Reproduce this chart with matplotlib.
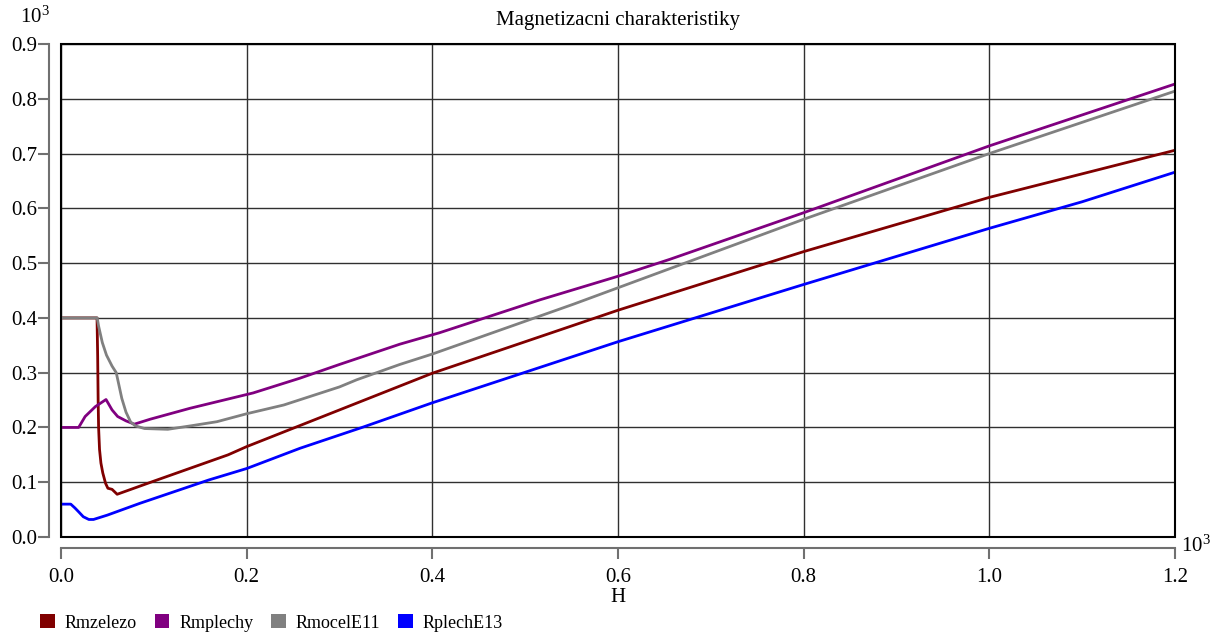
import matplotlib
matplotlib.use("Agg")
import matplotlib.pyplot as plt
from matplotlib.patches import Patch, Rectangle

plt.rcParams['font.family'] = ['Liberation Serif', 'DejaVu Serif']
plt.rcParams['mathtext.fontset'] = 'custom'
plt.rcParams['mathtext.rm'] = 'Liberation Serif'

# values in units of 10^3 (as printed on the axes)
h_zelezo = [0, 0.0388, 0.0395, 0.040, 0.0405, 0.0415, 0.043, 0.045, 0.048, 0.0505, 0.055, 0.0605,
            0.10, 0.18, 0.20, 0.30, 0.40, 0.60, 0.80, 1.0, 1.2]
r_zelezo = [0.4, 0.4, 0.33, 0.25, 0.20, 0.16, 0.135, 0.117, 0.098, 0.089, 0.087, 0.078,
            0.102, 0.150, 0.165, 0.232, 0.299, 0.414, 0.521, 0.620, 0.706]

h_plechy = [0, 0.019, 0.026, 0.037, 0.0485, 0.055, 0.061, 0.070, 0.079, 0.096,
            0.139, 0.207, 0.2575, 0.30, 0.365, 0.408, 0.516, 0.60, 0.656, 0.80, 1.0, 1.2]
r_plechy = [0.2, 0.2, 0.22, 0.238, 0.251, 0.232, 0.220, 0.212, 0.206, 0.215,
            0.235, 0.263, 0.290, 0.315, 0.352, 0.373, 0.433, 0.476, 0.507, 0.592, 0.714, 0.827]

h_mocel = [0, 0.039, 0.0405, 0.0445, 0.049, 0.055, 0.0595, 0.0655, 0.070, 0.075,
           0.080, 0.090, 0.115, 0.14, 0.168, 0.20, 0.24, 0.30, 0.3185, 0.365, 0.40,
           0.552, 0.60, 0.80, 1.0, 1.2]
r_mocel = [0.4, 0.4, 0.385, 0.355, 0.332, 0.312, 0.300, 0.253, 0.228, 0.210,
           0.203, 0.198, 0.1966, 0.203, 0.2105, 0.225, 0.241, 0.274, 0.287, 0.315, 0.334,
           0.425, 0.455, 0.580, 0.700, 0.814]

h_plech13 = [0, 0.0105, 0.015, 0.019, 0.024, 0.030, 0.035, 0.05, 0.085, 0.159,
             0.2, 0.2575, 0.326, 0.40, 0.60, 0.80, 1.0, 1.1, 1.2]
r_plech13 = [0.06, 0.06, 0.053, 0.046, 0.037, 0.032, 0.032, 0.040, 0.0615, 0.104,
             0.125, 0.162, 0.201, 0.245, 0.3565, 0.461, 0.5635, 0.612, 0.666]

series = [
    ("Rmzelezo", h_zelezo, r_zelezo, "#800000"),
    ("Rmplechy", h_plechy, r_plechy, "#800080"),
    ("RmocelE11", h_mocel, r_mocel, "#808080"),
    ("RplechE13", h_plech13, r_plech13, "#0000ff"),
]

xticks = [0.0, 0.2, 0.4, 0.6, 0.8, 1.0, 1.2]
yticks = [0.0, 0.1, 0.2, 0.3, 0.4, 0.5, 0.6, 0.7, 0.8, 0.9]

fs = 15

fig = plt.figure(figsize=(12.19, 6.41), dpi=100)
ax = fig.add_axes([61/1219, 1 - 537/641, (1175-61)/1219, (537-44)/641])

for name, h, r, c in series:
    ax.plot(h, r, color=c, lw=2, label=name, zorder=3)

ax.set_xlim(0, 1.2)
ax.set_ylim(0, 0.9)
ax.set_xticks(xticks)
ax.set_xticklabels(["%.1f" % v for v in xticks])
ax.set_yticks(yticks)
ax.set_yticklabels(["%.1f" % v for v in yticks])
ax.grid(True, color="#303030", lw=1.0, zorder=1)

ax.spines['top'].set_visible(False)
ax.spines['right'].set_visible(False)
ax.spines['left'].set_position(('outward', 9))
ax.spines['bottom'].set_position(('outward', 8))
for s in ('left', 'bottom'):
    ax.spines[s].set_color('#707070')
    ax.spines[s].set_linewidth(1.5)
ax.tick_params(axis='both', colors='#707070', labelcolor='black', width=1.5,
               length=8, labelsize=fs)
ax.tick_params(axis='y', pad=0)
ax.tick_params(axis='x', pad=6)
ax.add_patch(Rectangle((0, 0), 1, 1, fill=False, ec='black', lw=1.5,
                       transform=ax.transAxes, clip_on=False, zorder=4))

ax.set_title("Magnetizacni charakteristiky", fontsize=fs, pad=14)
ax.set_xlabel("H", fontsize=fs, labelpad=1)

fig.text(35/1219, 1 - 17/641, r"$\mathregular{10^3}$", fontsize=fs, ha='center', va='center')
fig.text(1196/1219, 1 - 546/641, r"$\mathregular{10^3}$", fontsize=fs, ha='center', va='center')

handles = [Patch(facecolor=c, edgecolor='none') for _, _, _, c in series]
labels = [n for n, _, _, _ in series]
fig.legend(handles, labels, loc='center left', bbox_to_anchor=(24/1219, 1 - 623/641),
           ncol=4, frameon=False, fontsize=13, handlelength=0.8, handleheight=0.8,
           handletextpad=0.55, columnspacing=1.0)

fig.savefig("out.png", dpi=100)
